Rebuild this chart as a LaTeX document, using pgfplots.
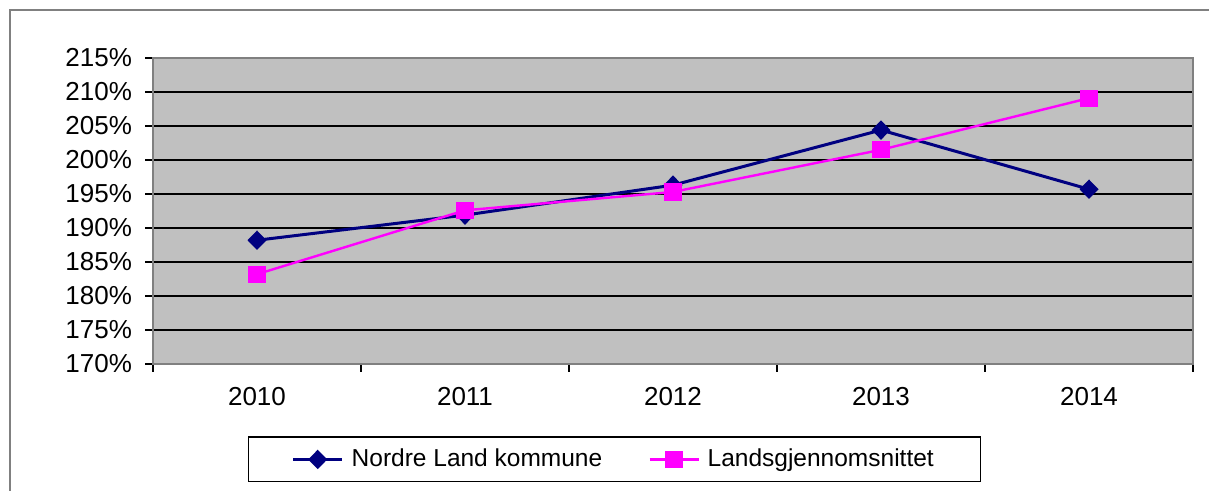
\documentclass[border=0pt]{standalone}
\usepackage{fontspec}
\setmainfont{Liberation Sans}
\usepackage{pgfplots}
\pgfplotsset{compat=1.18}
\definecolor{navyc}{HTML}{000080}
\definecolor{magc}{HTML}{FF00FF}
\definecolor{bgc}{HTML}{C0C0C0}
\definecolor{framec}{HTML}{808080}
\begin{document}
\begin{tikzpicture}
\useasboundingbox (0,0) rectangle (604.5pt,245.5pt);
\fill[white] (0,0) rectangle (604.5pt,245.5pt);
\draw[framec, line width=0.6pt] (5pt,-5pt) -- (5pt,240.5pt) -- (612pt,240.5pt);
\begin{axis}[
  at={(76.5pt,63.5pt)}, anchor=south west,
  scale only axis, width=520pt, height=153pt,
  xmin=-0.5, xmax=4.5, ymin=170, ymax=215,
  axis background/.style={fill=bgc},
  axis line style={framec, line width=1pt},
  xtick={0,1,2,3,4},
  xticklabels={2010,2011,2012,2013,2014},
  major x tick style={draw=none},
  minor xtick={-0.5,0.5,1.5,2.5,3.5,4.5},
  minor x tick style={black, line width=0.6pt},
  minor tick length=4pt,
  ytick={170,175,...,215},
  yticklabels={170\%,175\%,180\%,185\%,190\%,195\%,200\%,205\%,210\%,215\%},
  major y tick style={black, line width=0.6pt},
  major tick length=4pt,
  tick align=outside,
  ymajorgrids,
  y grid style={black, line width=0.6pt},
  xtick pos=bottom, ytick pos=left,
  tick label style={font=\fontsize{13}{15}\selectfont},
  xticklabel style={yshift=-4pt},
  yticklabel style={xshift=-3pt},
  legend style={at={(0.444,-0.312)}, anchor=center, draw=black, line width=0.6pt,
    legend columns=2, font=\fontsize{12.25}{15}\selectfont,
    /tikz/every even column/.append style={column sep=21pt},
    inner xsep=21.5pt, inner ysep=4pt},
  legend image code/.code={\draw[#1,mark repeat=2,mark phase=2] plot coordinates {(0pt,0pt)(12.25pt,0pt)(24.5pt,0pt)};},
]
\addplot[navyc, line width=1.5pt, mark=diamond*, mark size=3.8pt, mark options={solid, fill=navyc, xscale=1.3}]
 coordinates {(0,188.2) (1,191.9) (2,196.3) (3,204.4) (4,195.7)};
\addlegendentry{\hspace{2pt}Nordre Land kommune}
\addplot[magc, line width=1.2pt, mark=square*, mark size=3.7pt, mark options={solid, fill=magc}]
 coordinates {(0,183.2) (1,192.6) (2,195.3) (3,201.5) (4,209.1)};
\addlegendentry{\hspace{2pt}Landsgjennomsnittet\hspace{-4pt}}
\end{axis}
\end{tikzpicture}
\end{document}
